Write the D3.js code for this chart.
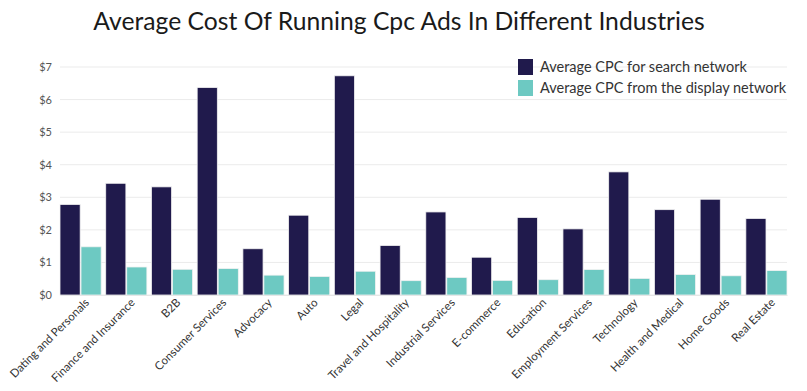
<!DOCTYPE html>
<html>
<head>
<meta charset="utf-8">
<script src="https://cdn.jsdelivr.net/npm/d3@7"></script>
<style>
  body { margin: 0; background: #fff; }
  svg { font-family: "Lato", "DejaVu Sans", sans-serif; }
</style>
</head>
<body>
<div id="chart"></div>
<script>
// data
var industries = ["Dating and Personals", "Finance and Insurance", "B2B", "Consumer Services",
    "Advocacy", "Auto", "Legal", "Travel and Hospitality", "Industrial Services", "E-commerce",
    "Education", "Employment Services", "Technology", "Health and Medical", "Home Goods", "Real Estate"];
var searchCpc = [2.78, 3.43, 3.32, 6.37, 1.42, 2.45, 6.73, 1.52, 2.55, 1.16, 2.38, 2.03, 3.78, 2.62, 2.94, 2.35];
var displayCpc = [1.48, 0.86, 0.79, 0.81, 0.61, 0.57, 0.73, 0.44, 0.54, 0.45, 0.47, 0.78, 0.51, 0.63, 0.59, 0.75];
var seriesNames = ["Average CPC for search network", "Average CPC from the display network"];
var yTicks = [0, 1, 2, 3, 4, 5, 6, 7];

var colors = ["#201a4c", "#6dc9c2"];

var svgWidth = 807, svgHeight = 391;
var margin = { top: 67, right: 20, bottom: 96, left: 60 };
var width = svgWidth - margin.left - margin.right;
var height = svgHeight - margin.top - margin.bottom;

var svg = d3.select("#chart").append("svg")
    .attr("width", svgWidth)
    .attr("height", svgHeight);

// title
svg.append("text")
    .attr("x", 399)
    .attr("y", 30)
    .attr("text-anchor", "middle")
    .attr("font-size", 24.7)
    .attr("fill", "#1a1a1a")
    .text("Average Cost Of Running Cpc Ads In Different Industries");

var chartGroup = svg.append("g")
    .attr("transform", `translate(${margin.left}, ${margin.top})`);

var x0 = d3.scaleBand()
    .domain(industries)
    .range([0, width])
    .paddingInner(0.1)
    .paddingOuter(0);

var x1 = d3.scaleBand()
    .domain([0, 1])
    .range([0, x0.bandwidth()])
    .paddingInner(0.04);

var y = d3.scaleLinear()
    .domain([0, 7])
    .range([height, 0]);

// gridlines
chartGroup.append("g")
    .selectAll("line")
    .data(yTicks)
    .enter()
    .append("line")
    .attr("x1", 0)
    .attr("x2", width)
    .attr("y1", d => y(d))
    .attr("y2", d => y(d))
    .attr("stroke", "#ebebeb")
    .attr("stroke-width", 1);

// y axis labels
var leftAxis = d3.axisLeft(y).tickValues(yTicks).tickFormat(d => "$" + d).tickSize(0).tickPadding(8);
chartGroup.append("g")
    .call(leftAxis)
    .call(g => g.select(".domain").remove())
    .selectAll("text")
    .attr("font-size", 11)
    .attr("font-family", "Lato, sans-serif")
    .attr("fill", "#555");

// bars
var groups = chartGroup.append("g")
    .selectAll("g")
    .data(industries)
    .enter()
    .append("g")
    .attr("transform", d => `translate(${x0(d)}, 0)`);

groups.selectAll("rect")
    .data((d, i) => [searchCpc[i], displayCpc[i]])
    .enter()
    .append("rect")
    .attr("x", (d, j) => x1(j))
    .attr("y", d => y(d))
    .attr("width", x1.bandwidth())
    .attr("height", d => height - y(d))
    .attr("fill", (d, j) => colors[j])
    .attr("stroke", "#f2f2f2")
    .attr("stroke-width", 0.8);

// x axis
var bottomAxis = d3.axisBottom(x0).tickSize(0).tickPadding(6);
chartGroup.append("g")
    .attr("transform", `translate(0, ${height})`)
    .call(bottomAxis)
    .call(g => g.select(".domain").attr("stroke", "#e6e6e6"))
    .selectAll("text")
    .attr("font-size", 11.5)
    .attr("font-family", "Lato, sans-serif")
    .attr("fill", "#333")
    .attr("text-anchor", "end")
    .attr("transform", "translate(1,0) rotate(-45)")
    .attr("dy", "0.5em")
    .attr("dx", "0em");

// legend
var legend = svg.append("g")
    .attr("transform", "translate(518, 59)");

var legendItems = legend.selectAll("g")
    .data(seriesNames)
    .enter()
    .append("g")
    .attr("transform", (d, i) => `translate(0, ${i * 21})`);

legendItems.append("rect")
    .attr("width", 15)
    .attr("height", 16)
    .attr("fill", (d, i) => colors[i]);

legendItems.append("text")
    .attr("x", 22)
    .attr("y", 12.5)
    .attr("font-size", 14.5)
    .attr("fill", "#333")
    .text(d => d);
</script>
</body>
</html>
